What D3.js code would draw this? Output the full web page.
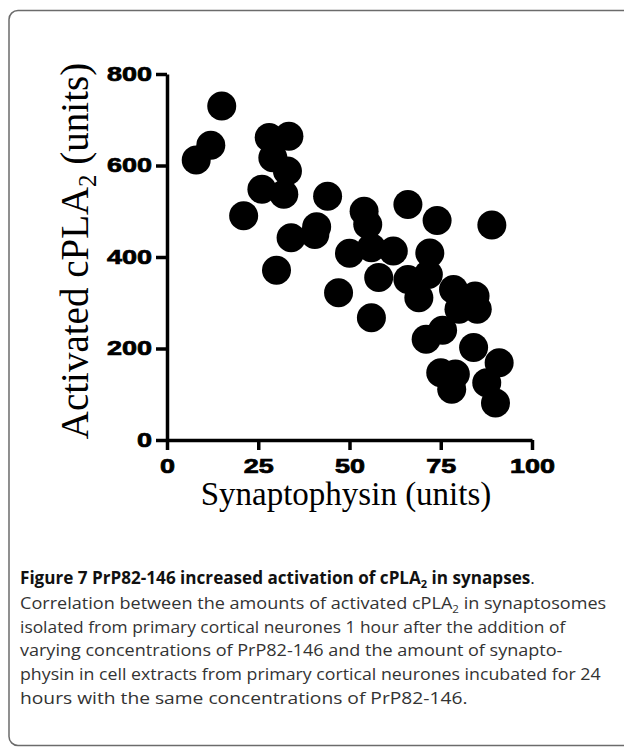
<!DOCTYPE html>
<html>
<head>
<meta charset="utf-8">
<script src="https://cdn.jsdelivr.net/npm/d3@7"></script>
<style>
  body { margin: 0; background: #fff; }
  svg { display: block; }
</style>
</head>
<body>
<svg id="fig" width="624" height="748"></svg>
<script>
// values (synaptophysin vs activated cPLA2)
const synaptophysin = [8, 12, 15, 21, 26, 28, 29, 30, 32, 33, 33.4, 34, 40.5, 41, 44, 47,
  50, 54, 55, 56, 56, 58, 62, 66, 66, 69, 71.6, 72, 74, 78.5, 84.4, 80, 85,
  71, 75.5, 84, 91, 75, 79, 78, 87.6, 90, 89];
const cpla2 = [612, 644, 730, 490, 548, 661, 617, 371, 537, 588, 664, 442, 449, 466, 533, 322,
  408, 500, 471, 420, 267, 355, 413, 515, 351, 311, 362, 409, 480, 329, 315, 286, 286,
  220, 240, 202, 169, 147, 144, 111, 125, 81, 470];
const xTicks = [0, 25, 50, 75, 100];
const yTicks = [0, 200, 400, 600, 800];

const captionLines = [
  "Correlation between the amounts of activated cPLA|2| in synaptosomes",
  "isolated from primary cortical neurones 1 hour after the addition of",
  "varying concentrations of PrP82-146 and the amount of synapto-",
  "physin in cell extracts from primary cortical neurones incubated for 24",
  "hours with the same concentrations of PrP82-146."
];
const captionEnds = [607, 567, 563, 602, 468];

const svg = d3.select("#fig");

// frame round the figure
svg.append("rect")
  .attr("x", 9).attr("y", 10.5)
  .attr("width", 720).attr("height", 735)
  .attr("rx", 9)
  .attr("fill", "none")
  .attr("stroke", "#6b6b6b")
  .attr("stroke-width", 1.5);

const x = d3.scaleLinear().domain([0, 100]).range([167, 532]);
const y = d3.scaleLinear().domain([0, 800]).range([440, 74]);

const g = svg.append("g");

// points
g.selectAll("circle")
  .data(synaptophysin.map((d, i) => [d, cpla2[i]]))
  .enter().append("circle")
  .attr("cx", d => x(d[0]))
  .attr("cy", d => y(d[1]))
  .attr("r", 14.5)
  .attr("fill", "#000");

function styleAxis(sel) {
  sel.select(".domain").attr("stroke", "#000").attr("stroke-width", 3.5);
  sel.selectAll(".tick line").attr("stroke", "#000").attr("stroke-width", 3.5);
  sel.selectAll(".tick text")
    .attr("fill", "#000")
    .attr("stroke", "#000")
    .attr("stroke-width", 0.7)
    .style("font-family", "'Liberation Sans', Arial, sans-serif")
    .style("font-weight", "bold")
    .style("font-size", "20px")
    .attr("textLength", function() { return this.textContent.length * 15; })
    .attr("lengthAdjust", "spacingAndGlyphs");
}

const xAxis = g.append("g")
  .attr("transform", "translate(0,440)")
  .call(d3.axisBottom(x).tickValues(xTicks).tickSize(10).tickPadding(9).tickSizeOuter(0));
styleAxis(xAxis);

const yAxis = g.append("g")
  .attr("transform", "translate(167,0)")
  .call(d3.axisLeft(y).tickValues(yTicks).tickSize(11).tickPadding(4).tickSizeOuter(0));
styleAxis(yAxis);

// axis titles
const serif = "'Liberation Serif', 'Times New Roman', serif";
svg.append("text")
  .attr("x", 346).attr("y", 505)
  .attr("text-anchor", "middle")
  .style("font-family", serif)
  .style("font-size", "33px")
  .text("Synaptophysin (units)");

const yt = svg.append("text")
  .attr("transform", "translate(88,251) rotate(-90)")
  .attr("text-anchor", "middle")
  .style("font-family", serif)
  .style("font-size", "39px");
yt.append("tspan").text("Activated cPLA");
yt.append("tspan").attr("dy", 8).style("font-size", "25px").text("2");
yt.append("tspan").attr("dy", -8).text(" (units)");

// squeeze or stretch a caption line so it ends where the reference line ends
function fitLine(t, x0, x1) {
  const w = t.node().getBBox().width;
  const k = (x1 - x0) / w;
  t.attr("transform", `translate(${x0},0) scale(${k},1) translate(${-x0},0)`);
}

// caption
const sans = "'Open Sans', 'Noto Sans', sans-serif";
const title = svg.append("text")
  .attr("x", 20).attr("y", 584)
  .attr("fill", "#111")
  .style("font-family", sans)
  .style("font-size", "17px");
title.append("tspan").style("font-weight", "bold").text("Figure 7 PrP82-146 increased activation of cPLA");
title.append("tspan").style("font-weight", "bold").attr("dy", 4).style("font-size", "11px").text("2");
title.append("tspan").style("font-weight", "bold").attr("dy", -4).text(" in synapses");
title.append("tspan").text(".");
fitLine(title, 20, 535);

captionLines.forEach((line, i) => {
  const t = svg.append("text")
    .attr("x", 20).attr("y", 609 + i * 23.7)
    .attr("fill", "#333")
    .style("font-family", sans)
    .style("font-size", "16.5px");
  line.split("|").forEach((part, j) => {
    if (j % 2 == 1) {
      t.append("tspan").attr("dy", 4).style("font-size", "10.5px").text(part);
    } else {
      t.append("tspan").attr("dy", j > 0 ? -4 : 0).text(part);
    }
  });
  fitLine(t, 20, captionEnds[i]);
});
</script>
</body>
</html>
